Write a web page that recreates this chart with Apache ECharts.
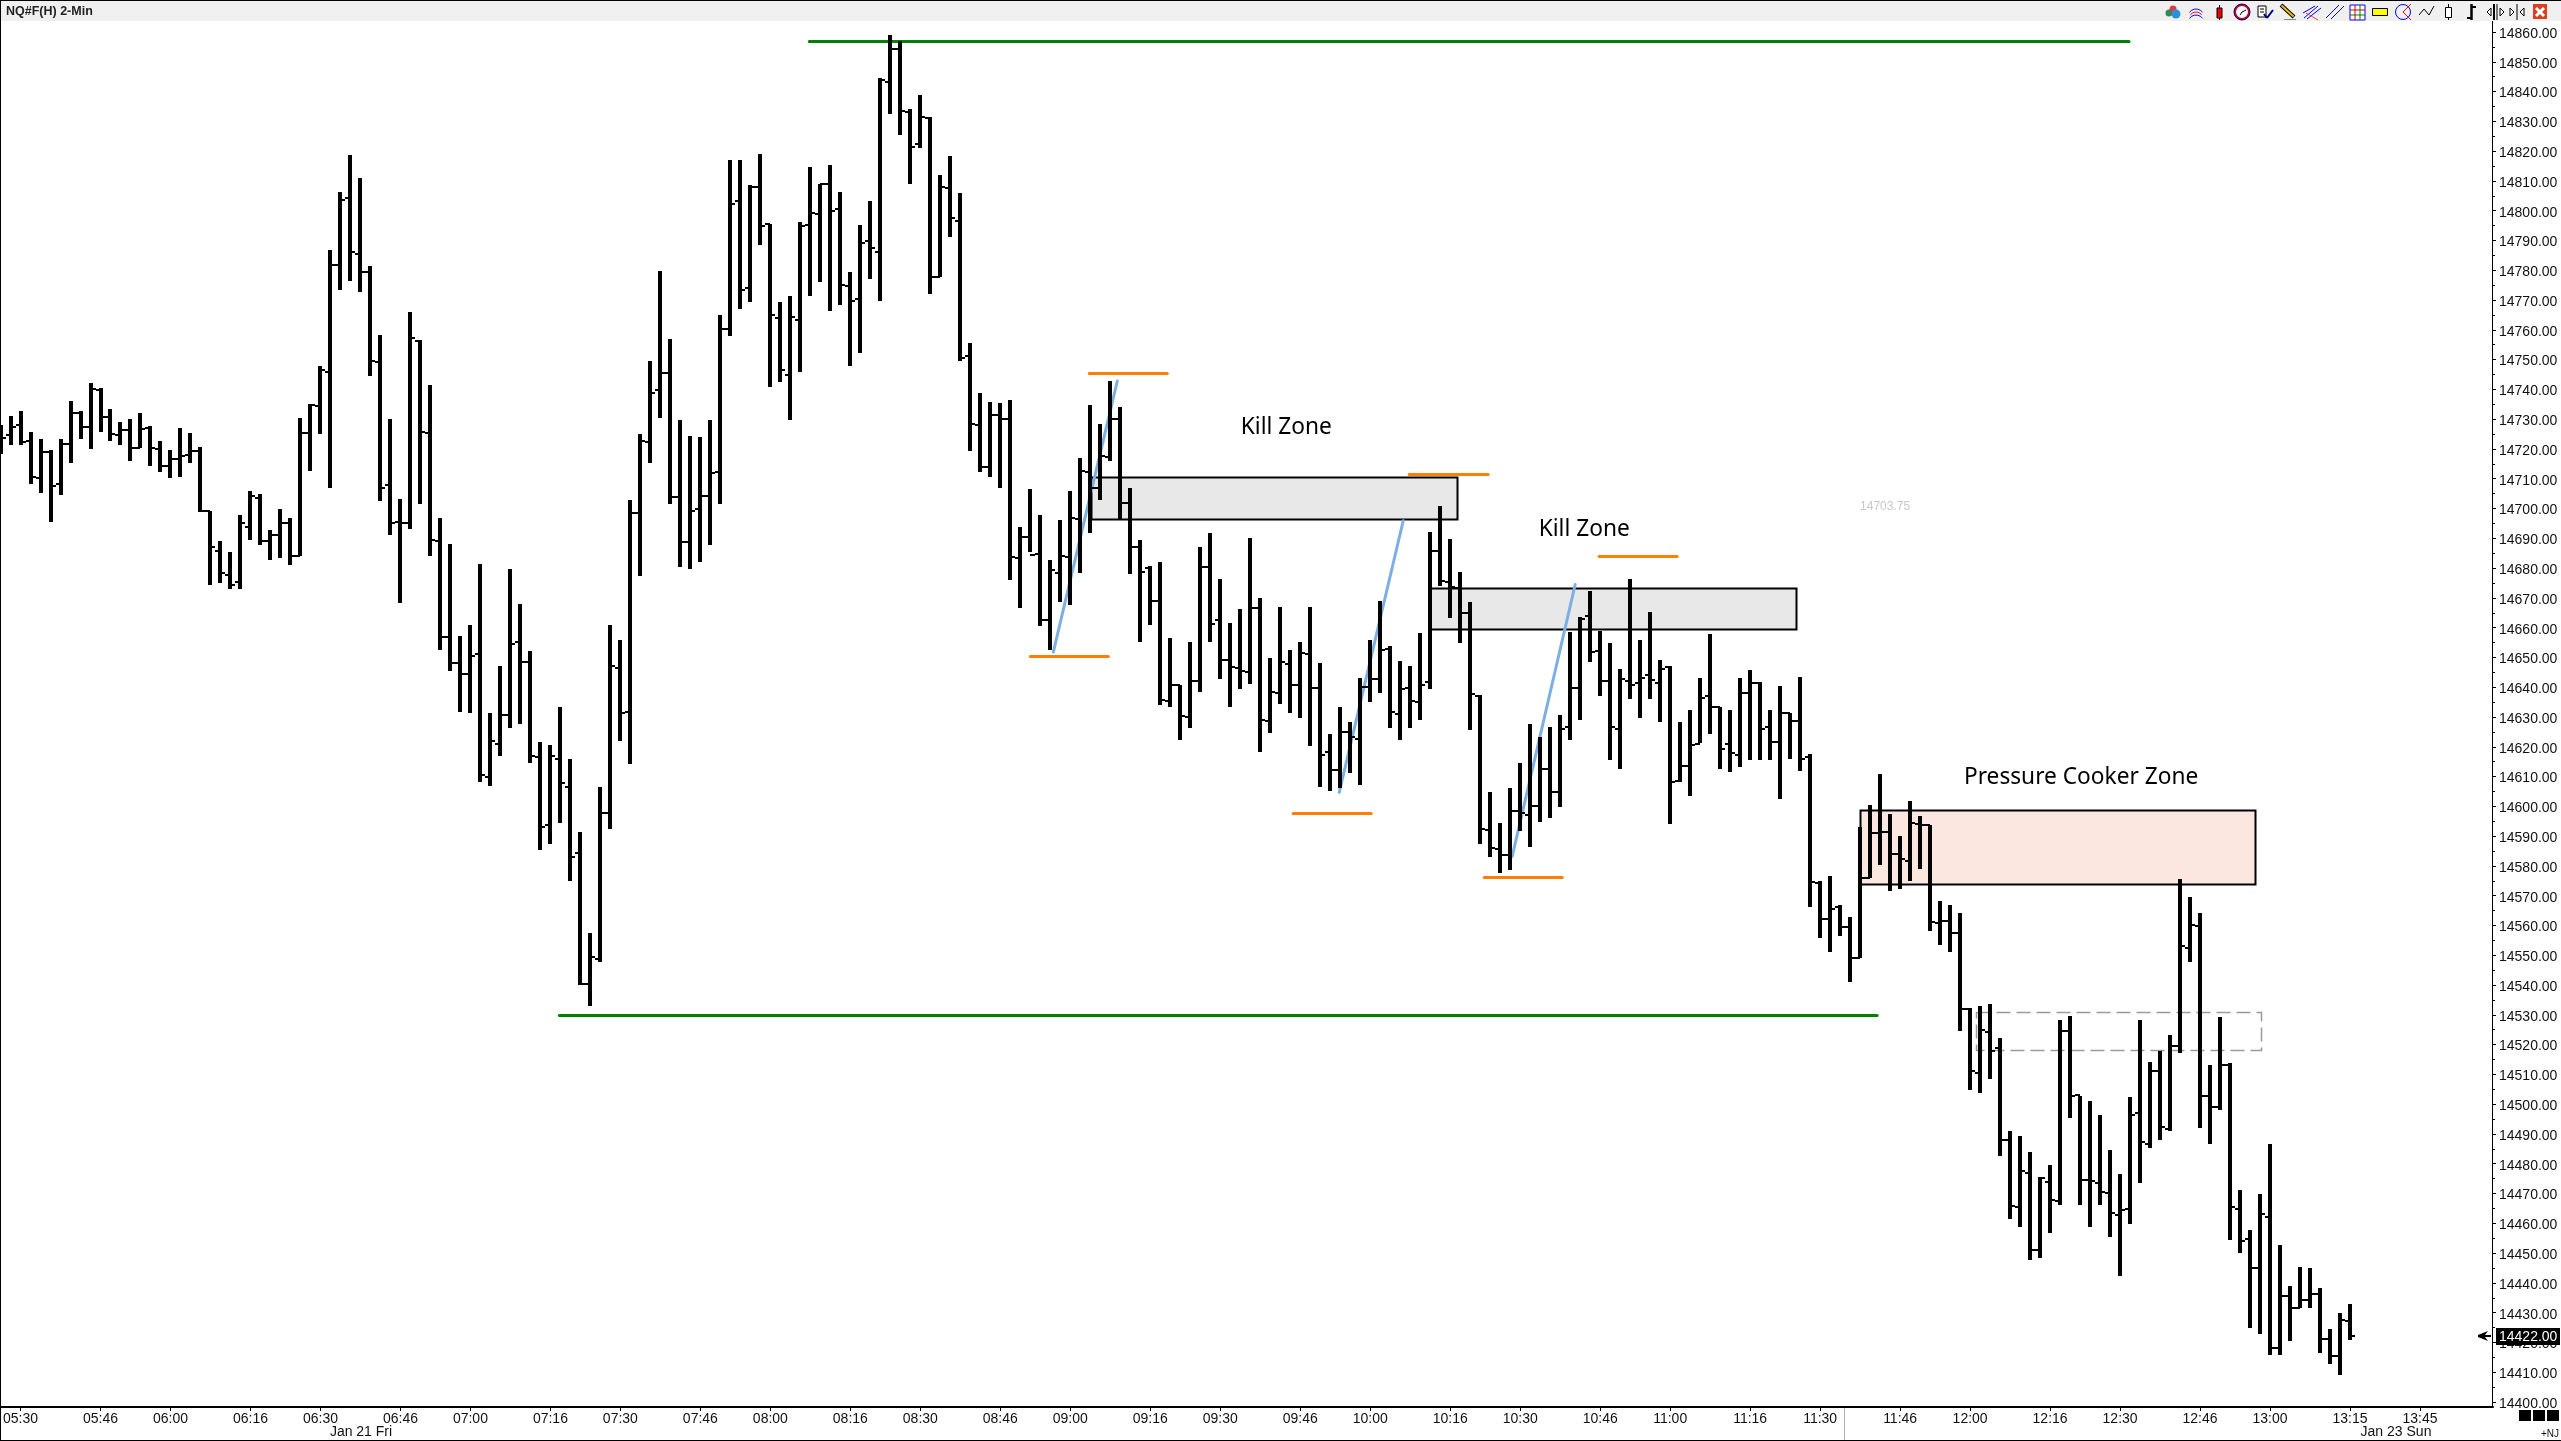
<!DOCTYPE html>
<html><head><meta charset="utf-8">
<style>html,body{margin:0;padding:0;background:#fff}#c{width:2561px;height:1441px}</style>
<script src="https://cdn.jsdelivr.net/npm/echarts@6/dist/echarts.min.js"></script>
</head><body><div id="c"></div>
<script>
const opens=[14726,14724.6,14728.1,14722.7,14710.4,14718.9,14708.2,14721.5,14732,14727.4,
14739.7,14730.7,14724.6,14726.3,14720.4,14727,14720,14714.2,14716.5,14718,
14719.3,14699.1,14685.7,14677.7,14675.4,14693.7,14703.4,14689.1,14691.1,14695,
14684.2,14725.2,14734.3,14745.8,14781.6,14804.4,14785.6,14779.5,14749.2,14708,
14695.6,14695,14756.3,14725.2,14689.1,14656.7,14648,14644.5,14651.2,14610,
14620.8,14630.7,14655.3,14648.4,14616.6,14593.8,14615.9,14606.6,14584.2,14540.2,
14548.7,14597.7,14646.4,14631.7,14698.5,14722.4,14739.7,14745.6,14703.8,14688.8,
14699.9,14704.2,14712.2,14760.4,14803.2,14773.9,14808.1,14795.5,14764,14745,
14763.4,14795.2,14799,14809.1,14800.6,14774.7,14770.5,14789.8,14786.2,14843.3,
14854.4,14833.3,14822.3,14831,14777.8,14807.5,14796.7,14751.2,14728.1,14714.1,
14731.5,14730.1,14683.4,14690.3,14684.8,14662.6,14678.3,14683.7,14696.5,14712.2,
14707,14717.3,14730.1,14701.7,14687,14679.9,14668.9,14635.5,14640.7,14630.1,
14642.2,14680.5,14662.5,14649,14646.5,14645.2,14666.6,14628.5,14638.1,14647.7,
14640.9,14651.2,14639.6,14618.2,14612.1,14624.9,14622.7,14640,14642.6,14652.9,
14631,14639.6,14634.9,14641.7,14685.9,14675.4,14673.3,14664.8,14637.1,14592.1,
14585.7,14583.5,14598.5,14597.2,14600.2,14612.4,14604.9,14626.5,14639.6,14663.8,
14652.2,14642.2,14625.9,14642.2,14641.4,14644.1,14641.4,14646.8,14608.4,14613.5,
14621,14637.2,14633.3,14621,14617.4,14638.1,14641.4,14626.6,14621.6,14631.5,
14628.8,14616.7,14574.4,14562.1,14566.3,14559.4,14549,14576,14591.1,14591.5,
14584.1,14581.6,14594,14593.7,14560.7,14561.6,14557.6,14532.1,14510.5,14524.3,
14518.9,14488.1,14465.4,14477,14451,14473.9,14467.6,14524.7,14503.2,14474.4,
14473.7,14470.1,14462.9,14464.9,14496.9,14486.5,14511.2,14491.5,14519.5,14552.6,
14559.8,14502.7,14499.1,14513.3,14464.9,14454.6,14445.1,14462.2,14418.1,14435.5,
14431.6,14434.3,14436.3,14421.1,14415.4,14427.1];
const highs=[14728.1,14731.2,14732.6,14725.8,14723.2,14719.5,14723.2,14736,14732.7,14742,
14740.3,14733.5,14728.9,14730.1,14732,14727.8,14722.7,14719.6,14726.9,14725.2,
14720.7,14699.1,14689.1,14685.4,14697.7,14706,14705,14692.8,14699.9,14696.8,
14730.4,14735.2,14747.7,14786.7,14806.3,14818.6,14810.9,14781.5,14758.2,14730.1,
14703.1,14766,14756.6,14741.5,14696.8,14688,14657.3,14661,14681.4,14631.4,
14647.2,14679.6,14667.8,14652.1,14621.6,14620.5,14633.3,14615.9,14591.3,14557.5,
14606.5,14660.9,14655.8,14702.7,14725,14749.4,14779.8,14757,14729.7,14724.2,
14724,14729.7,14765.1,14817.1,14817.1,14808.5,14819.1,14795.7,14769.5,14771.3,
14796.1,14814.8,14809.1,14815.2,14806.3,14779.5,14795.2,14803.2,14844.4,14859,
14856.9,14834.2,14838.8,14831.3,14812,14818.3,14806.1,14755.6,14738.9,14735.8,
14735.4,14736.4,14693.7,14706.7,14697.7,14682.6,14696.2,14705.9,14717,14734.7,
14728.4,14742.8,14734.1,14706.8,14689.4,14680.6,14682,14656.5,14640.9,14655.2,
14687.1,14691.8,14676.4,14661.6,14666.2,14690.1,14670,14649.8,14667,14652.5,
14655.1,14667,14648.1,14624.4,14633.4,14628.3,14643.1,14655.8,14668.9,14653.9,
14648.8,14647.1,14658.3,14692.2,14700.8,14689.8,14678.7,14668.7,14637.5,14604.7,
14594.4,14606.1,14614.7,14627.7,14623.3,14626.5,14630.7,14658.5,14663.5,14672.3,
14658.9,14654.8,14646.1,14676.4,14655.8,14665.3,14649.1,14647,14628.2,14632.2,
14643,14657.8,14633.3,14632.2,14643,14645.9,14641.9,14632.2,14640.5,14631.5,
14643.5,14617.6,14574.9,14576.7,14567,14562.9,14593.1,14600.5,14610.9,14597.3,
14590.1,14601.9,14596.9,14593.7,14568.1,14567,14564.3,14532.4,14532.8,14533.5,
14522.3,14491,14489.2,14483.8,14475.7,14479.7,14528.3,14529.7,14502.7,14500.9,
14496.4,14484.5,14476.6,14502.3,14528.3,14514.1,14518,14523.1,14575.6,14569.7,
14564.3,14513.3,14529.2,14513.7,14471.2,14457.7,14469.9,14486.7,14452.8,14438.8,
14445.4,14445.1,14438.4,14424.4,14429.8,14433];
const lows=[14718.4,14721.2,14721.2,14708.1,14705.3,14695.6,14704.4,14715.2,14723.2,14720,
14725.8,14722.7,14721.2,14716.1,14720.4,14714.4,14712.4,14710.4,14710.7,14715.3,
14698.8,14674.2,14674.9,14673,14673,14689.3,14687.9,14682.8,14683.5,14681.2,
14684.2,14712.7,14724.9,14707,14773.5,14776.5,14772.8,14744.6,14702.4,14691,
14668.4,14693,14701.6,14684.2,14652.6,14645.6,14631.7,14631.4,14608.3,14606.9,
14616.8,14626.2,14627.8,14614.6,14585.3,14587.3,14594.3,14575.1,14539.9,14532.8,
14547.9,14592.4,14622.1,14614.3,14677.2,14715.2,14730.3,14701.6,14680.5,14679.6,
14682.2,14687.6,14701.6,14758,14767.1,14769.5,14788.6,14740.9,14742.6,14729.8,
14746,14771.5,14775.9,14766.2,14768.2,14748,14752.3,14777.2,14769.7,14832.4,
14825.3,14809.1,14821.1,14771.9,14777.8,14791.3,14749.4,14719.2,14712.4,14710.7,
14707,14675.9,14666.7,14685.3,14660.7,14652.4,14668.7,14667.7,14678.2,14691.9,
14702.7,14715.8,14696.5,14677.9,14655.3,14661,14633.9,14633.2,14622.4,14626.2,
14638.5,14655.2,14642.9,14633.4,14639.3,14641.2,14618.4,14624.7,14634.5,14631.2,
14629.5,14620.4,14606.6,14605,14606.2,14611.1,14607.3,14635.1,14638.2,14626.4,
14622.4,14626.4,14629.1,14639.5,14674.1,14663.4,14654.7,14625.8,14587.5,14583.1,
14577.7,14578.7,14591.8,14586.4,14594.7,14596.1,14599.9,14622.4,14628.9,14648.3,
14637.2,14615.4,14612.4,14636.2,14629.8,14636.2,14628.2,14594.2,14608.1,14603.4,
14621.4,14624.3,14612.6,14611.7,14613.1,14615.6,14615.6,14615.6,14602.3,14615.8,
14612,14566.1,14555.7,14551,14556.4,14540.9,14549,14576,14580.2,14571.5,
14572.4,14575.1,14579.1,14558,14553.3,14551,14524.7,14504.7,14503.6,14508.5,
14482.7,14461.6,14458.9,14447.8,14448.5,14456.6,14466,14495.5,14466,14458.6,
14466.3,14455.5,14442.2,14459.7,14473.7,14485.2,14488.1,14491,14517.1,14547.9,
14491.9,14486.5,14498.2,14454.3,14450.1,14424.7,14422.9,14415.7,14415.7,14420.4,
14431.6,14431.6,14416.6,14412.8,14409.1,14420.8];
const closes=[14723.8,14727.4,14722.4,14710.7,14718.9,14707.6,14721.5,14732,14727.4,14740,
14730.7,14725,14726.3,14720.4,14726.6,14720.4,14714.2,14716.5,14717.8,14719.3,
14699.1,14687.2,14678.3,14674.2,14695,14704.2,14689.1,14691.1,14695,14684.2,
14725.2,14734.7,14746.5,14781.9,14803.5,14786.2,14779.5,14749.5,14707,14695.3,
14695.3,14757.1,14725.8,14689.4,14657,14648,14644.5,14650.5,14610.5,14622.1,
14630.7,14654.4,14648.4,14617,14593.2,14617,14607.7,14583,14540.5,14549.5,
14597.7,14647.2,14631.4,14698.5,14722.7,14738.9,14745.6,14703.8,14688.8,14699.3,
14704.2,14712,14760.4,14802.4,14773.3,14808.1,14794.9,14765,14746.6,14764.4,
14794.9,14799.2,14808.8,14799.8,14775.2,14769.7,14789,14787.5,14843.8,14854.4,
14833.4,14821.4,14831.3,14777.8,14807.8,14797.5,14750.4,14728.4,14713.8,14731.5,
14730.1,14683.7,14690.3,14684.5,14662.6,14679.2,14684.2,14696.8,14712.7,14707,
14717.6,14730.1,14701.7,14687.2,14678.8,14668.9,14635.8,14640.9,14630.4,14642,
14680.5,14661.2,14649,14646.7,14645.6,14666.6,14629.1,14638.4,14648.4,14640.9,
14651.6,14639.6,14617.3,14612.1,14624.9,14623.3,14640,14642.6,14652.6,14631.7,
14639.4,14635.3,14640.7,14685.6,14675.6,14673.8,14664.8,14637.8,14592.5,14586.1,
14583.5,14598.5,14597.6,14600.2,14612.7,14604.7,14625.9,14639.6,14662.8,14651.9,
14642,14626.8,14642.6,14640.9,14643.2,14642.3,14646.2,14608.1,14613.5,14620.7,
14636.3,14633.3,14619.2,14618,14638.1,14641.4,14626.1,14621.6,14631.5,14628.8,
14615.8,14574.7,14562.1,14565.4,14559.4,14549,14576,14591,14591.5,14584.1,
14582.3,14594.4,14593.7,14561.2,14561.6,14557.6,14532.1,14511.2,14524.9,14518,
14488.1,14465.8,14477.5,14451,14475.2,14467.9,14524.7,14502.7,14474.4,14474.3,
14470.6,14463.4,14464.3,14496.4,14487.4,14511.2,14492.4,14519.5,14553.1,14560.3,
14502.7,14499.1,14513.3,14465.4,14454.1,14445.1,14463.1,14418.1,14435.5,14431.6,
14434.3,14436.3,14421.1,14415.4,14427.6,14422];
const tickSlots=[2,10,17,25,32,40,47,55,62,70,77,85,92,100,107,115,122,130,137,145,152,160,167,175,182,190,197,205,212,220,227,235,242];
const tickLabels=['05:30','05:46','06:00','06:16','06:30','06:46','07:00','07:16','07:30','07:46','08:00','08:16','08:30','08:46','09:00','09:16','09:30','09:46','10:00','10:16','10:30','10:46','11:00','11:16','11:30','11:46','12:00','12:16','12:30','12:46','13:00','13:15','13:45'];
const greenLines=[[80.9,14857,212.9,14857],[55.9,14530,187.7,14530]];
const orangeLines=[[108.9,14745.4,116.7,14745.4],[103,14650.4,110.8,14650.4],[140.9,14711.6,148.8,14711.6],[129.3,14597.6,137.1,14597.6],[148.4,14576.2,156.2,14576.2],[159.9,14684,167.7,14684]];
const blueLines=[[105.3,14651.8,111.7,14742.8],[133.9,14604.7,140.3,14695.9],[151.2,14583.2,157.5,14674.5]];
const greyZones=[[109.1,14710.7,145.7,14696.6],[143,14673.4,179.6,14659.6]];
const pinkZones=[[186,14598.8,225.5,14573.9]];
const dashedZones=[[197.6,14530.8,226.1,14518.2]];
const noteTexts=[[128.6,14727.2,'Kill Zone'],[158.4,14693.1,'Kill Zone'],[208.1,14609.8,'Pressure Cooker Zone']];
const faintText=[[188.5,14700.5,'14703.75']];
const lastPrice=14422;

const bars=opens.map((o,i)=>[i,o,highs[i],lows[i],closes[i]]);
const chart=echarts.init(document.getElementById('c'),null,{renderer:'canvas'});
const AX='"Liberation Sans",Arial,sans-serif', NOTE='"Noto Sans",sans-serif';

function segSeries(data,color,w,z){return{type:'custom',z,silent:true,data,encode:{x:[0,2],y:[1,3]},
 renderItem(p,api){const a=api.coord([api.value(0),api.value(1)]),b=api.coord([api.value(2),api.value(3)]);
  const flat=a[1]===b[1];const y1=flat?Math.round(a[1])+.5:a[1],y2=flat?y1:b[1];
  return{type:'line',shape:{x1:a[0],y1,x2:b[0],y2},style:{stroke:color,lineWidth:w,lineCap:'round'}};}};}
function zoneSeries(data,fill,stroke,w,dash,z){return{type:'custom',z,silent:true,data,encode:{x:[0,2],y:[1,3]},
 renderItem(p,api){const a=api.coord([api.value(0),api.value(1)]),b=api.coord([api.value(2),api.value(3)]);
  const x=Math.round(a[0])+.5,y=Math.round(a[1])+.5;
  return{type:'rect',shape:{x,y,width:Math.round(b[0]-a[0]),height:Math.round(b[1]-a[1])},style:{fill,stroke,lineWidth:w,lineDash:dash}};}};}
function textSeries(data,font,color,z){return{type:'custom',z,silent:true,data,encode:{x:0,y:1},
 renderItem(p,api){const a=api.coord([api.value(0),api.value(1)]);
  return{type:'text',style:{x:a[0],y:a[1],text:data[p.dataIndex][2],font,fill:color,align:'center',verticalAlign:'middle'}};}};}

const series=[
 zoneSeries(greyZones,'#e8e8e8','#000',2,null,1),
 zoneSeries(pinkZones,'#fbe7e0','#000',2,null,1),
 zoneSeries(dashedZones,'none','#9a9a9a',1.5,[14,6],2),
 segSeries(greenLines,'#008000',3,2),
 segSeries(blueLines,'#7cb0e2',3,3),
 {type:'custom',z:5,silent:true,data:bars,encode:{x:0,y:[1,2,3,4]},
  renderItem(p,api){const x=api.value(0);
   const xc=Math.round(api.coord([x,14400])[0]);
   const yo=Math.round(api.coord([x,api.value(1)])[1]),yh=Math.round(api.coord([x,api.value(2)])[1]),
         yl=Math.round(api.coord([x,api.value(3)])[1]),yc=Math.round(api.coord([x,api.value(4)])[1]);
   const st={fill:'#000'};
   return{type:'group',children:[
    {type:'rect',shape:{x:xc-2,y:yh,width:4,height:yl-yh},style:st},
    {type:'rect',shape:{x:xc-5,y:yo-1,width:5,height:2},style:st},
    {type:'rect',shape:{x:xc,y:yc-1,width:5,height:2},style:st}]};}},
 segSeries(orangeLines,'#ff8000',3,6),
 textSeries(noteTexts,'22.7px '+NOTE,'#000',7),
 textSeries(faintText,'12px '+AX,'#c8c8c8',7),
 {type:'custom',z:9,silent:true,data:[[0,lastPrice]],encode:{y:1},
  renderItem(p,api){const y=Math.round(api.coord([0,api.value(1)])[1]);
   return{type:'group',children:[
    {type:'polygon',shape:{points:[[2478,y-1],[2488,y-5],[2485,y-1],[2491,y-1],[2491,y+1],[2485,y+1],[2488,y+5],[2478,y+1]]},style:{fill:'#000'}},
    {type:'rect',shape:{x:2496,y:y-8,width:64,height:17},style:{fill:'#000'}},
    {type:'text',style:{x:2499,y:y+1,text:api.value(1).toFixed(2),font:'14px '+AX,fill:'#fff',verticalAlign:'middle'}}]};}}
];

function icons(){const e=[];
 const L=(x1,y1,x2,y2,c,w=1)=>e.push({type:'line',shape:{x1,y1,x2,y2},style:{stroke:c,lineWidth:w}});
 const R=(x,y,w,h,f,s)=>e.push({type:'rect',shape:{x,y,width:w,height:h},style:{fill:f,stroke:s||null,lineWidth:1}});
 const C=(cx,cy,r,f,s,w=1)=>e.push({type:'circle',shape:{cx,cy,r},style:{fill:f,stroke:s,lineWidth:w}});
 const A=(cx,cy,r,c)=>e.push({type:'arc',shape:{cx,cy,r,startAngle:Math.PI*1.2,endAngle:Math.PI*1.8},style:{stroke:c,lineWidth:1,fill:'none'}});
 C(2169,13,3.5,'#2e8b57',null);C(2173,9,3.5,'#d04040',null);C(2176,14,4.5,'#2a8fd8',null);
 A(2196,17,8,'#0000ff');A(2196,19,7,'#ff0000');A(2196,23,8,'#0000ff');
 L(2219.5,5,2219.5,20,'#000',1);R(2217,8,5,10,'#f00000','#000');
 C(2242,12,7,'#fff','#d00000',2);C(2242,12,8,'none','#0000a0',1);L(2242,12,2246,10,'#000');L(2242,12,2240,15,'#000');
 R(2258,6,8,11,'#fff','#000');L(2260,9,2264,9,'#000');L(2260,12,2264,12,'#000');L(2264,14,2267,18,'#000080',2);L(2267,18,2273,10,'#000080',2);
 L(2281,5,2294,17,'#000',4);L(2281.5,5.5,2293.5,16.5,'#f0c000',2);L(2284,19.5,2296,19.5,'#888');
 L(2304,18,2318,6,'#0000ff');L(2307,19,2321,8,'#0000ff');L(2303,13,2315,6,'#0000ff');L(2306,13,2318,20,'#ff4040');
 L(2326,18,2339,5,'#0000ff');L(2331,19,2344,6,'#0000ff');
 R(2350,5,15,15,'#fff','#0000ff');L(2350,10,2365,10,'#d00000');L(2350,15,2365,15,'#008000');L(2355,5,2355,20,'#d00000');L(2360,5,2360,20,'#008000');
 R(2372.5,8.5,15,7,'#ffff00','#000');
 C(2403,12,7.5,'none','#0000ff');L(2403,12,2411,4,'#ff0000');L(2403,12,2411,20,'#ff0000');
 e.push({type:'polyline',shape:{points:[[2419,15],[2424,9],[2429,15],[2434,6]]},style:{stroke:'#000',fill:'none',lineWidth:1}});
 L(2448.5,4,2448.5,20,'#000');R(2445.5,7.5,6,10,'#fff','#000');
 L(2471.5,4,2471.5,20,'#000',2.5);L(2472,7,2476,7,'#000',2);L(2467,18,2471,18,'#000',2);
 e.push({type:'polygon',shape:{points:[[2491,8],[2487,12],[2491,16]]},style:{fill:'#fff',stroke:'#000'}});L(2494,4,2494,20,'#000',2);L(2497,4,2497,20,'#000');
 e.push({type:'polygon',shape:{points:[[2500,8],[2504,12],[2500,16]]},style:{fill:'#fff',stroke:'#000'}});
 e.push({type:'polygon',shape:{points:[[2510,8],[2514,12],[2510,16]]},style:{fill:'#fff',stroke:'#000'}});L(2517,4,2517,20,'#000');
 e.push({type:'polygon',shape:{points:[[2524,8],[2520,12],[2524,16]]},style:{fill:'#fff',stroke:'#000'}});
 R(2533,4,14,15,'#d84020',null);L(2536,8,2544,16,'#fff',3);L(2544,8,2536,16,'#fff',3);
 return e.map(o=>Object.assign(o,{silent:true}));
}
const gfx=[
 {type:'rect',z:-1,shape:{x:0,y:1,width:2561,height:20},style:{fill:'#f0f0f0'},silent:true},
 {type:'rect',shape:{x:0,y:0,width:2561,height:1},style:{fill:'#000'},silent:true},
 {type:'rect',shape:{x:0,y:0,width:1,height:1441},style:{fill:'#000'},silent:true},
 {type:'rect',shape:{x:0,y:1440,width:2561,height:1},style:{fill:'#000'},silent:true},
 {type:'rect',shape:{x:2492,y:21,width:1,height:1386},style:{fill:'#000'},silent:true},
 {type:'rect',shape:{x:1844,y:1408,width:1,height:32},style:{fill:'#b0b0b0'},silent:true},
 {type:'text',style:{x:6,y:12,text:'NQ#F(H) 2-Min',font:'bold 12.5px '+AX,fill:'#222',verticalAlign:'middle'},silent:true},
 {type:'text',style:{x:361,y:1432,text:'Jan 21 Fri',font:'14px '+AX,fill:'#111',align:'center',verticalAlign:'middle'},silent:true},
 {type:'text',style:{x:2396,y:1432,text:'Jan 23 Sun',font:'14px '+AX,fill:'#111',align:'center',verticalAlign:'middle'},silent:true},
 {type:'text',style:{x:2559,y:1434,text:'+NJ',font:'10px '+AX,fill:'#111',align:'right',verticalAlign:'middle'},silent:true},
 {type:'rect',shape:{x:2519,y:1410,width:12,height:11},style:{fill:'#000'},silent:true},
 {type:'rect',shape:{x:2533,y:1410,width:12,height:11},style:{fill:'#000'},silent:true},
 {type:'rect',shape:{x:2547,y:1410,width:12,height:11},style:{fill:'#000'},silent:true},
 ...icons()
];
chart.setOption({
 animation:false,backgroundColor:'#fff',
 grid:{left:0,top:32,width:2493,height:1370,containLabel:false},
 xAxis:{type:'value',min:0,max:249.3,offset:5,splitLine:{show:false},
  axisLine:{show:true,onZero:false,lineStyle:{color:'#000',width:2}},
  axisTick:{show:true,customValues:tickSlots,length:4,lineStyle:{color:'#000',width:1}},
  axisLabel:{show:true,customValues:tickSlots,margin:5.5,fontSize:14,fontFamily:'Liberation Sans',color:'#111',hideOverlap:false,
   showMinLabel:true,showMaxLabel:true,formatter:v=>tickLabels[tickSlots.indexOf(v)]||''}},
 yAxis:{type:'value',position:'right',min:14400,max:14860,interval:10,splitLine:{show:false},
  axisLine:{show:false,onZero:false},
  axisTick:{show:true,inside:false,length:3,lineStyle:{color:'#000',width:1}},
  minorTick:{show:true,splitNumber:2,length:2,lineStyle:{color:'#000',width:1}},
  axisLabel:{margin:6,fontSize:14,fontFamily:'Liberation Sans',color:'#111',verticalAlign:'top',padding:[-5,0,0,0],formatter:v=>v.toFixed(2)}},
 graphic:{elements:gfx},
 series
});
</script></body></html>
